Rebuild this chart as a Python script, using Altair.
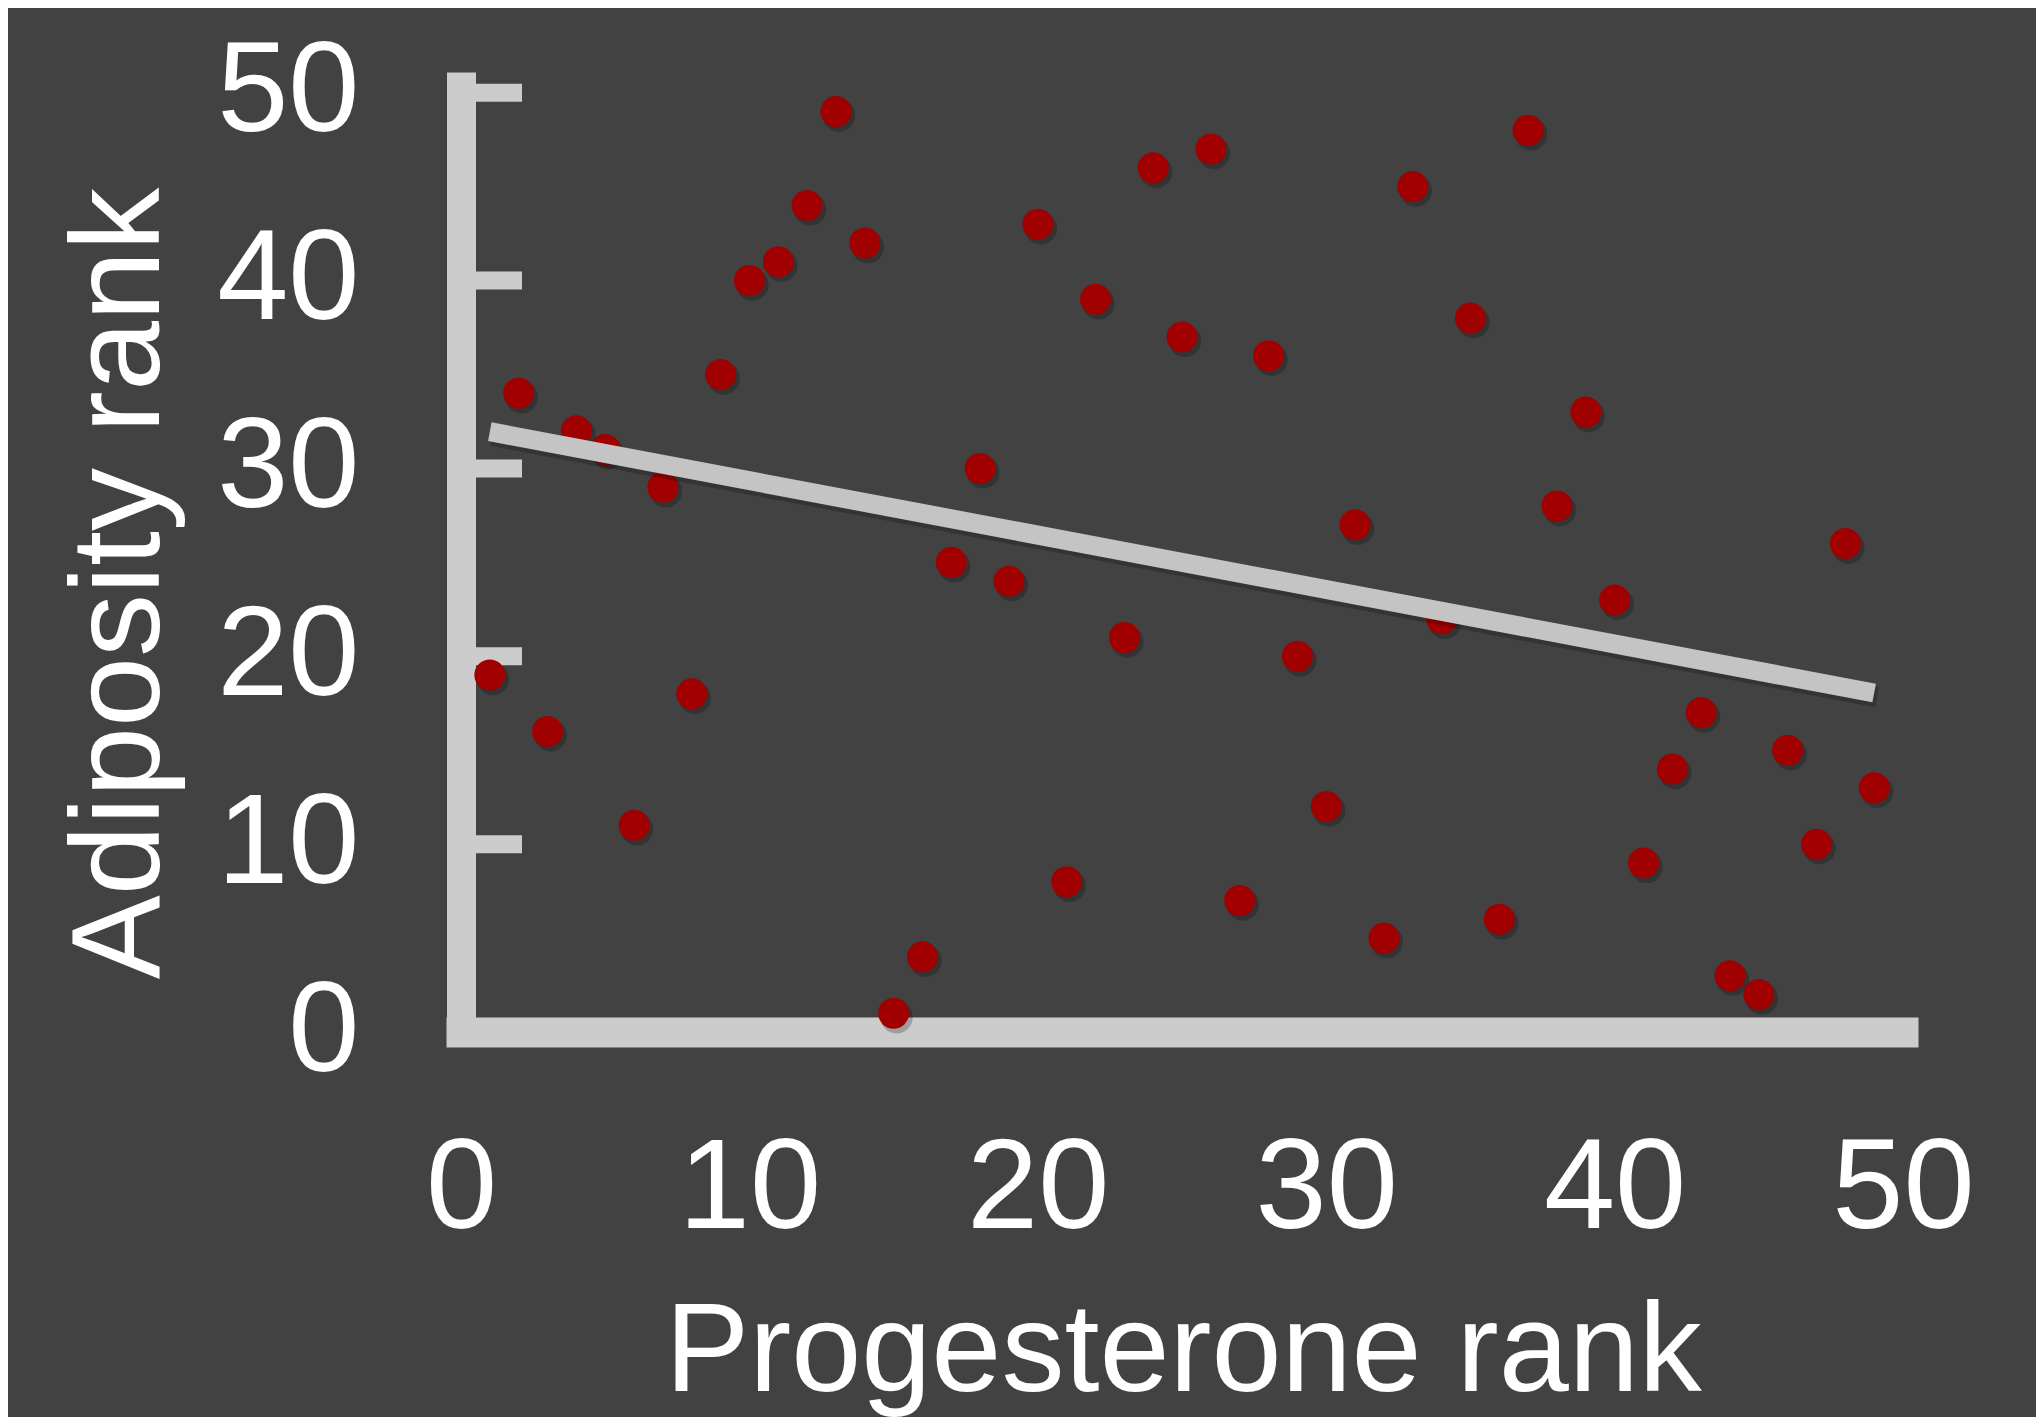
import altair as alt
import pandas as pd

# Data
progesterone_rank = [1, 2, 3, 4, 5, 6, 7, 8, 9, 10, 11, 12, 13, 14, 15, 16, 17,
                     18, 19, 20, 21, 22, 23, 24, 25, 26, 27, 28, 29, 30, 31, 32,
                     33, 34, 35, 36, 37, 38, 39, 40, 41, 42, 43, 44, 45, 46, 47,
                     48, 49]
adiposity_rank = [19, 34, 16, 32, 31, 11, 29, 18, 35, 40, 41, 44, 49, 42, 1, 4,
                  25, 30, 24, 43, 8, 39, 21, 46, 37, 47, 7, 36, 20, 12, 27, 5,
                  45, 22, 38, 6, 48, 28, 33, 23, 9, 14, 17, 3, 2, 15, 10, 26, 13]
x_tick_values = [0, 10, 20, 30, 40, 50]
y_tick_values = [0, 10, 20, 30, 40, 50]
y_tick_marks = [10, 20, 30, 40, 50]

df = pd.DataFrame({"progesterone": progesterone_rank, "adiposity": adiposity_rank})
tick_df = pd.DataFrame({"adiposity": y_tick_marks})

BG = "#424242"
AXIS = "#cccccc"
FONT = "Liberation Sans"
X_TITLE = "Progesterone rank"
Y_TITLE = "Adiposity rank"

xs = alt.Scale(domain=[0, 50], nice=False, zero=False)
ys = alt.Scale(domain=[0, 51.1], nice=False, zero=False)

x_axis = alt.Axis(
    values=x_tick_values, format="d", grid=False, ticks=False, tickSize=0,
    domain=True, domainColor=AXIS, domainWidth=30, domainCap="square",
    labelFont=FONT, labelFontSize=128, labelColor="#ffffff", labelPadding=94,
    labelFlush=False, labelOverlap=False,
    titleFont=FONT, titleFontSize=126, titleFontWeight="normal", titleColor="#ffffff",
    titleX=722, titleY=358, titleAlign="center", titleBaseline="alphabetic",
)
y_axis = alt.Axis(
    values=y_tick_values, format="d", grid=False, ticks=False, tickSize=0,
    domain=True, domainColor=AXIS, domainWidth=29, domainCap="butt",
    labelFont=FONT, labelFontSize=128, labelColor="#ffffff", labelPadding=102,
    labelFlush=False, labelOverlap=False,
    titleFont=FONT, titleFontSize=126, titleFontWeight="normal", titleColor="#ffffff",
    titleAngle=270, titleX=-303, titleY=511, titleAlign="center", titleBaseline="alphabetic",
)

enc_x = alt.X("progesterone:Q", scale=xs, axis=x_axis, title=X_TITLE)
enc_y = alt.Y("adiposity:Q", scale=ys, axis=y_axis, title=Y_TITLE)

ticks = alt.Chart(tick_df).mark_rule(color=AXIS, strokeWidth=18, strokeCap="butt").encode(
    y=enc_y,
    x=alt.value(0),
    x2=alt.value(61),
)

point_shadow = alt.Chart(df).mark_circle(
    size=1050, color="#000000", opacity=0.22, xOffset=3, yOffset=4
).encode(x=enc_x, y=enc_y)

points = alt.Chart(df).mark_circle(size=960, color="#a00000", opacity=1).encode(
    x=enc_x, y=enc_y
)

line_shadow = alt.Chart(df).transform_regression("progesterone", "adiposity").mark_line(
    color="#000000", opacity=0.2, strokeWidth=21, strokeCap="butt", xOffset=3, yOffset=4
).encode(x=enc_x, y=enc_y)

line = alt.Chart(df).transform_regression("progesterone", "adiposity").mark_line(
    color="#c4c4c4", strokeWidth=19, strokeCap="butt"
).encode(x=enc_x, y=enc_y)

chart = alt.layer(ticks, point_shadow, points, line_shadow, line).properties(
    width=1442,
    height=960,
    autosize=alt.AutoSizeParams(type="none"),
    padding={"left": 453, "top": 64, "right": 133, "bottom": 385},
    background=BG,
).configure_view(stroke=None)

chart.save("out.html", embed_options={"renderer": "svg", "actions": False})
